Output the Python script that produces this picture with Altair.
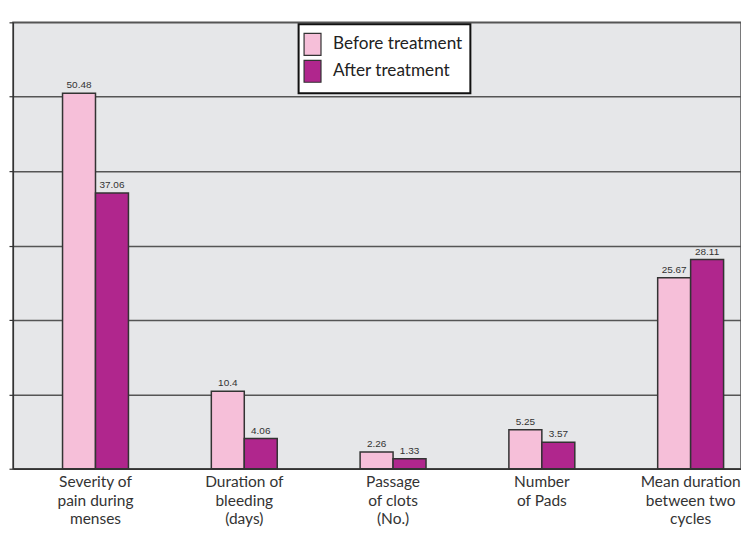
import altair as alt
import pandas as pd

categories = ["Severity of|pain during|menses", "Duration of|bleeding|(days)",
              "Passage|of clots|(No.)", "Number|of Pads", "Mean duration|between two|cycles"]
before = [50.48, 10.4, 2.26, 5.25, 25.67]
after = [37.06, 4.06, 1.33, 3.57, 28.11]
series = ["Before treatment", "After treatment"]
colors = ["#f6bfd9", "#b0268d"]

rows = []
for c, b, a in zip(categories, before, after):
    rows.append({"cat": c, "series": series[0], "value": b, "label": f"{b:g}"})
    rows.append({"cat": c, "series": series[1], "value": a, "label": f"{a:.2f}"})
df = pd.DataFrame(rows)

xscale = alt.Scale(domain=categories, paddingInner=0.557, paddingOuter=0.225, align=0.74)
x = alt.X("cat:N", sort=categories, scale=xscale, title=None,
          axis=alt.Axis(labelExpr="split(datum.label, '|')", labelAngle=0,
                        labelFont="Lato", labelFontSize=15.5, labelColor="#333",
                        labelLineHeight=18.5, labelPadding=6, ticks=False,
                        domainColor="#333", domainWidth=1.5, labelLimit=200))
xoff = alt.XOffset("series:N", sort=series, scale=alt.Scale(domain=series, paddingInner=0, paddingOuter=0))
y = alt.Y("value:Q", scale=alt.Scale(domain=[0, 60]), title=None,
          axis=alt.Axis(values=[0, 10, 20, 30, 40, 50, 60], labels=False, tickSize=4,
                        tickColor="#333", tickWidth=1.2, domainColor="#333", domainWidth=1.2,
                        grid=True, gridColor="#555", gridWidth=1.5))

bars = alt.Chart(df).mark_bar(stroke="#333", strokeWidth=1.5).encode(
    x=x, xOffset=xoff, y=y,
    color=alt.Color("series:N", sort=series,
                    scale=alt.Scale(domain=series, range=colors), title=None,
                    legend=alt.Legend(orient="none", legendX=286, legendY=2,
                                      fillColor="white", strokeColor="#111",
                                      padding=8, labelFont="Lato", labelFontSize=17.2,
                                      labelColor="#222", labelLimit=300,
                                      symbolType="M-1.32,-1H0.22V1H-1.32Z", symbolSize=484,
                                      symbolStrokeColor="#333", symbolStrokeWidth=1.2,
                                      symbolOpacity=1, rowPadding=-1, labelOffset=2.5)),
)

text = alt.Chart(df).mark_text(dy=-8, font="Liberation Sans", fontSize=10, color="#333").encode(
    x=alt.X("cat:N", sort=categories, scale=xscale), xOffset=xoff,
    y=alt.Y("value:Q"), text="label:N"
)

chart = alt.layer(bars, text).properties(
    width=729, height=447,
    padding={"left": 0, "top": 13, "right": 0, "bottom": 0},
    background="white",
).configure_view(fill="#e6e7e9", stroke="#555", strokeWidth=1.5
).configure_legend(strokeWidth=2)

chart.save("out.html", embed_options={"renderer": "svg", "actions": False})
